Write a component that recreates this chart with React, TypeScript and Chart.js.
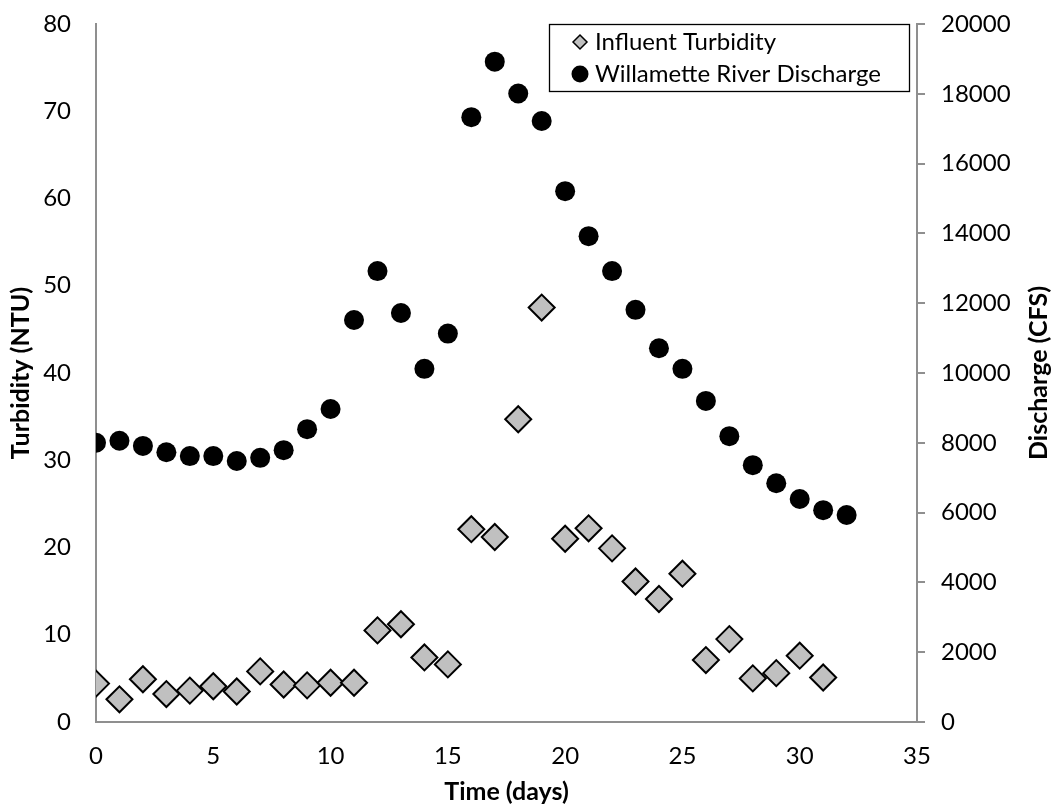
import React, { useEffect, useRef } from 'react';
import { Chart, registerables } from 'chart.js';

Chart.register(...registerables);

const turbidityDays = [0, 1, 2, 3, 4, 5, 6, 7, 8, 9, 10, 11, 12, 13, 14, 15, 16, 17, 18, 19, 20, 21, 22, 23, 24, 25, 26, 27, 28, 29, 30, 31];
const turbidity = [4.4, 2.6, 4.9, 3.2, 3.6, 4.1, 3.5, 5.8, 4.3, 4.2, 4.5, 4.5, 10.5, 11.2, 7.4, 6.6, 22.1, 21.2, 34.7, 47.5, 21.0, 22.2, 19.9, 16.1, 14.1, 17.0, 7.1, 9.5, 5.0, 5.6, 7.6, 5.1];

const dischargeDays = [0, 1, 2, 3, 4, 5, 6, 7, 8, 9, 10, 11, 12, 13, 14, 15, 16, 17, 18, 19, 20, 21, 22, 23, 24, 25, 26, 27, 28, 29, 30, 31, 32];
const discharge = [8000, 8060, 7910, 7730, 7620, 7620, 7480, 7570, 7790, 8390, 8970, 11520, 12920, 11720, 10120, 11130, 17330, 18920, 18010, 17220, 15210, 13920, 12920, 11810, 10710, 10120, 9200, 8190, 7360, 6840, 6390, 6070, 5930];

const seriesLabels = ['Influent Turbidity', 'Willamette River Discharge'];
const xTitle = 'Time (days)';
const yLeftTitle = 'Turbidity (NTU)';
const yRightTitle = 'Discharge (CFS)';

const FONT = 'Lato';
const AXIS_GREY = '#8f8f8f';
const LABEL_SIZE = 24;
const TITLE_SIZE = 25;

const legendPlugin = {
  id: 'boxLegend',
  afterDraw(chart: any) {
    const { ctx, chartArea } = chart;
    const right = chartArea.right - 8;
    const left = right - 360;
    const top = chartArea.top;
    const h = 67;
    ctx.save();
    ctx.strokeStyle = '#000';
    ctx.lineWidth = 1.3;
    ctx.strokeRect(left + 0.5, top + 0.5, right - left, h);
    const mx = left + 31;
    const tx = left + 46;
    const y1 = top + 18;
    const y2 = top + 50;
    ctx.beginPath();
    ctx.moveTo(mx - 7, y1);
    ctx.lineTo(mx, y1 - 7);
    ctx.lineTo(mx + 7, y1);
    ctx.lineTo(mx, y1 + 7);
    ctx.closePath();
    ctx.fillStyle = '#c0c0c0';
    ctx.fill();
    ctx.lineWidth = 1.5;
    ctx.strokeStyle = '#000';
    ctx.stroke();
    ctx.beginPath();
    ctx.arc(mx, y2, 8.5, 0, Math.PI * 2);
    ctx.fillStyle = '#000';
    ctx.fill();
    ctx.font = `${LABEL_SIZE}px ${FONT}`;
    ctx.textBaseline = 'middle';
    ctx.textAlign = 'left';
    ctx.fillText(seriesLabels[0], tx, y1);
    ctx.fillText(seriesLabels[1], tx, y2);
    ctx.restore();
  },
};

const rightTitlePlugin = {
  id: 'rightTitle',
  afterDraw(chart: any) {
    const { ctx, chartArea } = chart;
    ctx.save();
    ctx.translate(chart.width - 12, (chartArea.top + chartArea.bottom) / 2);
    ctx.rotate(-Math.PI / 2);
    ctx.font = `bold ${TITLE_SIZE}px ${FONT}`;
    ctx.fillStyle = '#000';
    ctx.textAlign = 'center';
    ctx.textBaseline = 'middle';
    ctx.fillText(yRightTitle, 0, 0);
    ctx.restore();
  },
};

const noPadV = (w: number) => (s: any) => {
  s.width = w;
  s.paddingTop = 0;
  s.paddingBottom = 0;
};

export default function App() {
  const ref = useRef<HTMLCanvasElement | null>(null);

  useEffect(() => {
    if (!ref.current) return;
    const chart = new Chart(ref.current, {
      type: 'scatter',
      data: {
        datasets: [
          {
            label: seriesLabels[0],
            data: turbidityDays.map((d, i) => ({ x: d, y: turbidity[i] })),
            yAxisID: 'y',
            pointStyle: 'rectRot',
            pointRadius: 13,
            pointBackgroundColor: '#c0c0c0',
            pointBorderColor: '#000',
            pointBorderWidth: 2,
            showLine: false,
          },
          {
            label: seriesLabels[1],
            data: dischargeDays.map((d, i) => ({ x: d, y: discharge[i] })),
            yAxisID: 'y1',
            pointStyle: 'circle',
            pointRadius: 10,
            pointBackgroundColor: '#000',
            pointBorderColor: '#000',
            pointBorderWidth: 0,
            showLine: false,
          },
        ],
      },
      options: {
        animation: false,
        responsive: false,
        maintainAspectRatio: false,
        layout: { padding: { top: 24, left: 0, right: 0, bottom: 0 } },
        plugins: {
          legend: { display: false },
          tooltip: { enabled: false },
        },
        scales: {
          x: {
            type: 'linear',
            min: 0,
            max: 35,
            ticks: {
              stepSize: 5,
              color: '#000',
              font: { family: FONT, size: LABEL_SIZE },
              padding: 20,
              callback: (v: any) => String(v),
            },
            grid: { display: false, drawTicks: false },
            border: { display: true, color: AXIS_GREY, width: 2 },
            title: {
              display: true,
              text: xTitle,
              color: '#000',
              font: { family: FONT, size: TITLE_SIZE, weight: 'bold' },
              padding: { top: 0, bottom: 0 },
            },
            afterFit: (s: any) => {
              s.height = 85;
              s.paddingLeft = 0;
              s.paddingRight = 0;
            },
          },
          y: {
            type: 'linear',
            position: 'left',
            min: 0,
            max: 80,
            ticks: {
              stepSize: 10,
              color: '#000',
              font: { family: FONT, size: LABEL_SIZE },
              padding: 25,
              callback: (v: any) => String(v),
            },
            grid: { display: false, drawTicks: false },
            border: { display: true, color: AXIS_GREY, width: 2 },
            title: {
              display: true,
              text: yLeftTitle,
              color: '#000',
              font: { family: FONT, size: TITLE_SIZE, weight: 'bold' },
              padding: { top: 6, bottom: 0 },
            },
            afterFit: noPadV(96),
          },
          y1: {
            type: 'linear',
            position: 'right',
            min: 0,
            max: 20000,
            ticks: {
              stepSize: 2000,
              color: '#000',
              font: { family: FONT, size: LABEL_SIZE },
              padding: 16,
              callback: (v: any) => String(v),
            },
            grid: {
              display: true,
              drawOnChartArea: false,
              drawTicks: true,
              tickLength: 8,
              color: AXIS_GREY,
              lineWidth: 2,
            },
            border: { display: true, color: AXIS_GREY, width: 2 },
            title: { display: false },
            afterFit: noPadV(134),
          },
        },
      } as any,
      plugins: [legendPlugin, rightTitlePlugin],
    });
    return () => chart.destroy();
  }, []);

  return (
    <div style={{ position: 'absolute', left: 0, top: 0, width: 1051, height: 807, background: '#fff' }}>
      <canvas ref={ref} width={1051} height={807} style={{ width: 1051, height: 807, display: 'block' }} />
    </div>
  );
}
